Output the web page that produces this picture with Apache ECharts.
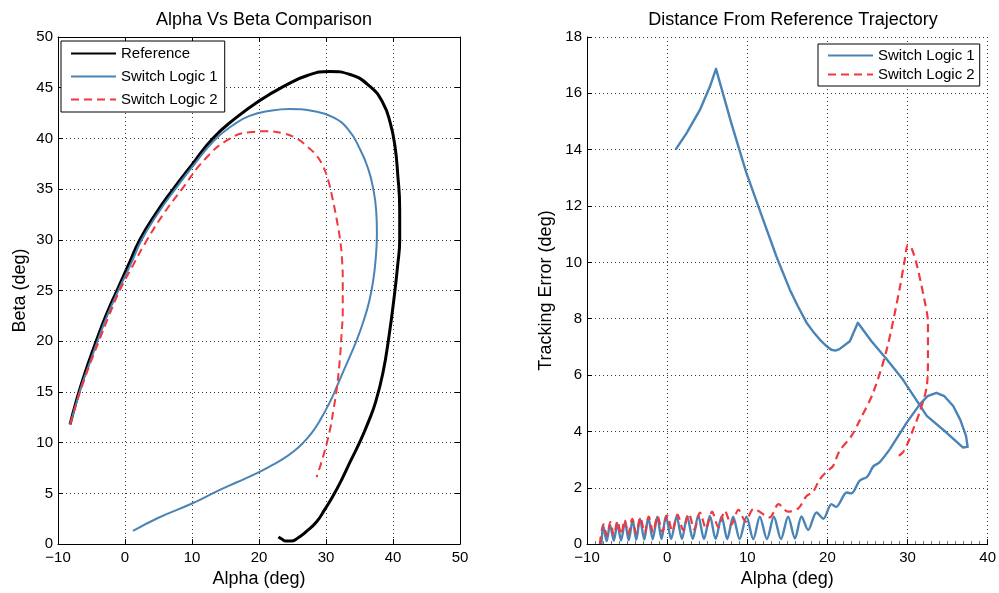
<!DOCTYPE html>
<html>
<head>
<meta charset="utf-8">
<script src="https://cdn.jsdelivr.net/npm/echarts@6/dist/echarts.min.js"></script>
<style>
html,body{margin:0;padding:0;background:#fff;}
#chart{width:999px;height:593px;}
</style>
</head>
<body>
<div id="chart"></div>
<script>
// ---------- Left plot: Alpha vs Beta ----------
var refAlpha = [-8.2, -7.4, -6.6, -5.5, -4.2, -2.8, -1.2, 0.5, 2.2, 4.6, 7.2, 10.0, 13.1, 16.5, 20.0, 23.6, 27.2, 30.6, 33.6, 36.6, 38.5, 39.6, 40.3, 40.7, 41.0, 41.0, 40.7, 40.2, 39.4, 38.5, 37.4, 36.3, 35.0, 33.6, 32.3, 31.0, 29.8, 28.6, 27.0, 25.8, 24.8, 24.0, 23.4, 22.9];
var refBeta  = [11.8, 13.8, 15.6, 17.8, 20.2, 22.6, 25.0, 27.5, 30.0, 32.6, 35.0, 37.4, 40.0, 42.0, 43.7, 45.1, 46.2, 46.6, 46.3, 45.1, 43.5, 41.5, 39.2, 36.5, 33.0, 30.0, 27.5, 24.5, 20.5, 16.9, 14.0, 12.0, 10.0, 8.1, 6.3, 4.7, 3.4, 2.2, 1.2, 0.6, 0.3, 0.3, 0.5, 0.7];

var sl1Alpha = [-8.2, -7.3, -6.5, -5.3, -4.0, -2.6, -1.0, 0.8, 2.5, 4.9, 7.5, 10.3, 13.3, 16.1, 18.5, 21.5, 24.6, 28.0, 31.0, 33.3, 35.1, 36.3, 37.0, 37.5, 37.6, 37.4, 37.0, 36.4, 35.6, 34.7, 33.7, 32.7, 31.6, 30.5, 29.1, 27.9, 26.6, 25.1, 23.6, 21.7, 19.7, 16.7, 13.7, 10.0, 5.0, 1.2];
var sl1Beta  = [11.8, 13.8, 15.6, 17.8, 20.2, 22.6, 25.0, 27.5, 30.0, 32.6, 35.0, 37.4, 39.8, 41.3, 42.2, 42.7, 42.9, 42.7, 42.1, 40.9, 38.9, 37.0, 35.2, 32.8, 30.7, 28.0, 25.8, 23.8, 22.0, 20.3, 18.7, 17.2, 15.5, 13.9, 12.2, 11.0, 10.0, 9.1, 8.4, 7.7, 7.0, 6.1, 5.2, 4.0, 2.6, 1.3];

var sl2Alpha = [-8.2, -7.3, -6.4, -5.2, -3.9, -2.4, -0.8, 1.2, 3.3, 5.8, 8.5, 12.0, 15.7, 18.5, 21.2, 23.6, 25.6, 27.2, 28.6, 29.6, 30.4, 31.0, 31.6, 32.1, 32.4, 32.5, 32.5, 32.3, 32.1, 31.6, 31.1, 30.6, 29.6, 28.6];
var sl2Beta  = [11.8, 13.8, 15.6, 17.8, 20.0, 22.5, 25.0, 27.5, 30.0, 32.6, 35.0, 38.0, 40.0, 40.6, 40.7, 40.5, 40.0, 39.2, 38.3, 37.2, 35.7, 34.0, 32.0, 30.0, 28.0, 25.8, 23.1, 20.5, 18.5, 15.3, 13.2, 11.3, 8.7, 6.6];

// ---------- Right plot: Tracking error vs Alpha ----------
// Switch Logic 1: oscillating start (drawn smoothed), then the rest of the path
var err1OscAlpha = [-8.2, -7.97, -7.55, -7.13, -6.65, -6.22, -5.75, -5.26, -4.8, -4.3, -3.85, -3.39, -2.85, -2.35, -1.8, -1.23, -0.7, -0.15, 0.5, 1.18, 1.85, 2.5, 3.2, 3.88, 4.6, 5.34, 6.05, 6.8, 7.5, 8.24, 9.05, 9.9, 10.75, 11.57, 12.45, 13.32, 14.2, 15.1, 15.95, 16.77, 17.6, 18.64, 19.5, 20.5, 21.1, 22.4, 23.0, 24.0, 25.0, 25.7, 26.5, 27.8];
var err1OscVal   = [0.0, 0.65, 0.1, 0.68, 0.12, 0.72, 0.13, 0.78, 0.14, 0.85, 0.15, 0.9, 0.16, 0.95, 0.17, 0.97, 0.18, 1.0, 0.18, 0.98, 0.18, 0.98, 0.18, 1.02, 0.18, 1.0, 0.18, 0.98, 0.18, 0.97, 0.18, 0.97, 0.18, 0.97, 0.18, 0.97, 0.18, 0.97, 0.2, 0.98, 0.5, 1.12, 0.9, 1.42, 1.32, 1.83, 1.8, 2.24, 2.4, 2.75, 2.9, 3.37];
var err1Alpha = [27.8, 29.9, 31.5, 32.5, 33.6, 34.6, 35.7, 36.6, 37.3, 37.5, 36.9, 34.85, 32.4, 29.4, 27.4, 25.5, 23.8, 22.8, 21.5, 21.0, 20.5, 19.8, 19.05, 18.2, 17.4, 16.3, 15.3, 13.65, 12.0, 9.9, 8.0, 6.1, 5.34, 4.09, 2.43, 1.06];
var err1Val   = [3.37, 4.31, 4.95, 5.25, 5.37, 5.25, 4.9, 4.4, 3.84, 3.45, 3.43, 3.96, 4.55, 5.85, 6.56, 7.2, 7.86, 7.2, 6.92, 6.87, 6.9, 7.05, 7.26, 7.55, 7.86, 8.45, 9.04, 10.2, 11.5, 13.17, 14.95, 16.87, 16.24, 15.41, 14.59, 14.0];

var err2Alpha = [-8.4, -7.95, -7.5, -7.1, -6.65, -6.2, -5.75, -5.3, -4.85, -4.35, -3.85, -3.35, -2.8, -2.3, -1.75, -1.2, -0.6, 0.0, 0.65, 1.3, 2.0, 2.7, 3.4, 4.1, 4.85, 5.6, 6.4, 7.2, 8.0, 8.9, 9.8, 10.8, 12.8, 13.9, 15.1, 16.4, 17.4, 18.2, 19.05, 20.0, 20.7, 21.5, 23.0, 24.0, 25.7, 27.4, 29.0, 29.6, 30.06, 30.5, 31.1, 32.1, 32.55, 32.55, 32.4, 31.5, 30.7, 30.06, 29.4, 28.6];
var err2Val   = [0.0, 0.7, 0.3, 0.78, 0.32, 0.82, 0.34, 0.86, 0.36, 0.9, 0.38, 0.95, 0.4, 0.98, 0.42, 1.0, 0.44, 1.02, 0.46, 1.05, 0.5, 1.08, 0.52, 1.12, 0.55, 1.15, 0.6, 1.18, 0.68, 1.22, 0.8, 1.25, 0.95, 1.42, 1.15, 1.28, 1.71, 1.85, 2.3, 2.6, 2.77, 3.3, 3.84, 4.37, 5.37, 6.9, 9.04, 10.0, 10.63, 10.5, 9.98, 8.68, 7.86, 6.67, 5.6, 4.67, 4.07, 3.6, 3.25, 3.07];

// ---------- Tick settings ----------
var leftXTicks  = {min: -10, max: 50, interval: 10};
var leftYTicks  = {min: 0, max: 50, interval: 5};
var rightXTicks = {min: -10, max: 40, interval: 10};
var rightYTicks = {min: 0, max: 18, interval: 2};

var seriesNames = ['Reference', 'Switch Logic 1', 'Switch Logic 2'];
var titles = ['Alpha Vs Beta Comparison', 'Distance From Reference Trajectory'];
var axisNames = {x: 'Alpha (deg)', yLeft: 'Beta (deg)', yRight: 'Tracking Error (deg)'};

function zip(a, b) { var out = []; for (var i = 0; i < a.length; i++) out.push([a[i], b[i]]); return out; }

var FONT = "'Liberation Sans', Arial, Helvetica, sans-serif";
var BLUE = '#4a83b5', RED = '#f0393e', BLACK = '#000';

function fmt(v) { return v < 0 ? '\u2212' + Math.abs(v) : String(v); }

var gridLine = {show: true, lineStyle: {color: '#3a3a3a', width: 1, type: [1, 3]}};

function baseAxis(ticks, gridIndex, position, extra) {
  var ax = {
    type: 'value', gridIndex: gridIndex, position: position,
    min: ticks.min, max: ticks.max, interval: ticks.interval,
    axisLine: {show: true, onZero: false, lineStyle: {color: '#000', width: 1}},
    axisTick: {show: true, inside: true, length: 5, lineStyle: {color: '#000'}},
    axisLabel: {show: true, color: '#000', fontSize: 15, fontFamily: FONT, formatter: fmt},
    splitLine: gridLine
  };
  for (var k in extra) ax[k] = extra[k];
  return ax;
}

var legendCommon = {
  orient: 'vertical', itemWidth: 45, itemHeight: 14,
  borderColor: '#000', borderWidth: 1, backgroundColor: '#fff', borderRadius: 0,
  textStyle: {fontSize: 15, color: '#000', fontFamily: FONT}, selectedMode: false,
  itemStyle: {opacity: 0, borderWidth: 0}
};
function mk(base, extra) { var o = {}; for (var k in base) o[k] = base[k]; for (var j in extra) o[j] = extra[j]; return o; }

var option = {
  animation: false,
  backgroundColor: '#fff',
  textStyle: {fontFamily: FONT},
  title: [
    {text: titles[0], left: 259, top: 6, textAlign: 'center', textStyle: {fontSize: 18, fontWeight: 'normal', color: '#000', fontFamily: FONT}},
    {text: titles[1], left: 788, top: 6, textAlign: 'center', textStyle: {fontSize: 18, fontWeight: 'normal', color: '#000', fontFamily: FONT}}
  ],
  grid: [
    {left: 58, top: 37, width: 402, height: 508},
    {left: 587, top: 37, width: 401, height: 508}
  ],
  legend: [
    mk(legendCommon, {data: seriesNames, left: 61, top: 41, itemGap: 8, padding: [5, 7, 5, 9]}),
    mk(legendCommon, {data: seriesNames.slice(1), left: 818, top: 44, itemGap: 4, padding: [4, 5, 4, 9]})
  ],
  xAxis: [
    baseAxis(leftXTicks, 0, 'bottom', {
      name: axisNames.x, nameLocation: 'middle', nameGap: 24,
      nameTextStyle: {fontSize: 18, color: '#000', fontFamily: FONT},
      axisLabel: {color: '#000', fontSize: 15, fontFamily: FONT, formatter: fmt, margin: 6}
    }),
    baseAxis(rightXTicks, 1, 'bottom', {
      name: axisNames.x, nameLocation: 'middle', nameGap: 24,
      nameTextStyle: {fontSize: 18, color: '#000', fontFamily: FONT},
      axisLabel: {color: '#000', fontSize: 15, fontFamily: FONT, formatter: fmt, margin: 6},
      minorTick: {show: true, splitNumber: 10, length: 3, lineStyle: {color: '#777'}}
    }),
    baseAxis(leftXTicks, 0, 'top', {axisLabel: {show: false}, splitLine: {show: false}})
  ],
  yAxis: [
    baseAxis(leftYTicks, 0, 'left', {
      name: axisNames.yLeft, nameLocation: 'middle', nameGap: 29,
      nameTextStyle: {fontSize: 18, color: '#000', fontFamily: FONT},
      axisLabel: {color: '#000', fontSize: 15, fontFamily: FONT, formatter: fmt, margin: 5}
    }),
    baseAxis(rightYTicks, 1, 'left', {
      name: axisNames.yRight, nameLocation: 'middle', nameGap: 32,
      nameTextStyle: {fontSize: 18, color: '#000', fontFamily: FONT},
      axisLabel: {color: '#000', fontSize: 15, fontFamily: FONT, formatter: fmt, margin: 5}
    }),
    baseAxis(leftYTicks, 0, 'right', {axisLabel: {show: false}, splitLine: {show: false}})
  ],
  series: [
    {name: seriesNames[0], type: 'line', xAxisIndex: 0, yAxisIndex: 0, data: zip(refAlpha, refBeta),
     symbol: 'none', showSymbol: false, smooth: 0.5, lineStyle: {color: BLACK, width: 3}, itemStyle: {color: BLACK}, z: 2},
    {name: seriesNames[1], type: 'line', xAxisIndex: 0, yAxisIndex: 0, data: zip(sl1Alpha, sl1Beta),
     symbol: 'none', showSymbol: false, smooth: 0.5, lineStyle: {color: BLUE, width: 2}, itemStyle: {color: BLUE}, z: 3},
    {name: seriesNames[2], type: 'line', xAxisIndex: 0, yAxisIndex: 0, data: zip(sl2Alpha, sl2Beta),
     symbol: 'none', showSymbol: false, smooth: 0.5, lineStyle: {color: RED, width: 2, type: [8, 5]}, itemStyle: {color: RED}, z: 4},
    {name: seriesNames[1], type: 'line', xAxisIndex: 1, yAxisIndex: 1, data: zip(err1OscAlpha, err1OscVal),
     symbol: 'none', showSymbol: false, smooth: 0.3, lineStyle: {color: BLUE, width: 2.4}, itemStyle: {color: BLUE}, z: 3},
    {name: seriesNames[1], type: 'line', xAxisIndex: 1, yAxisIndex: 1, data: zip(err1Alpha, err1Val),
     symbol: 'none', showSymbol: false, lineStyle: {color: BLUE, width: 2.4, join: 'round'}, itemStyle: {color: BLUE}, z: 3},
    {name: seriesNames[2], type: 'line', xAxisIndex: 1, yAxisIndex: 1, data: zip(err2Alpha, err2Val),
     symbol: 'none', showSymbol: false, smooth: 0.3, lineStyle: {color: RED, width: 2.2, type: [8, 5]}, itemStyle: {color: RED}, z: 4}
  ]
};

var chart = echarts.init(document.getElementById('chart'), null, {renderer: 'canvas'});
chart.setOption(option);
</script>
</body>
</html>
